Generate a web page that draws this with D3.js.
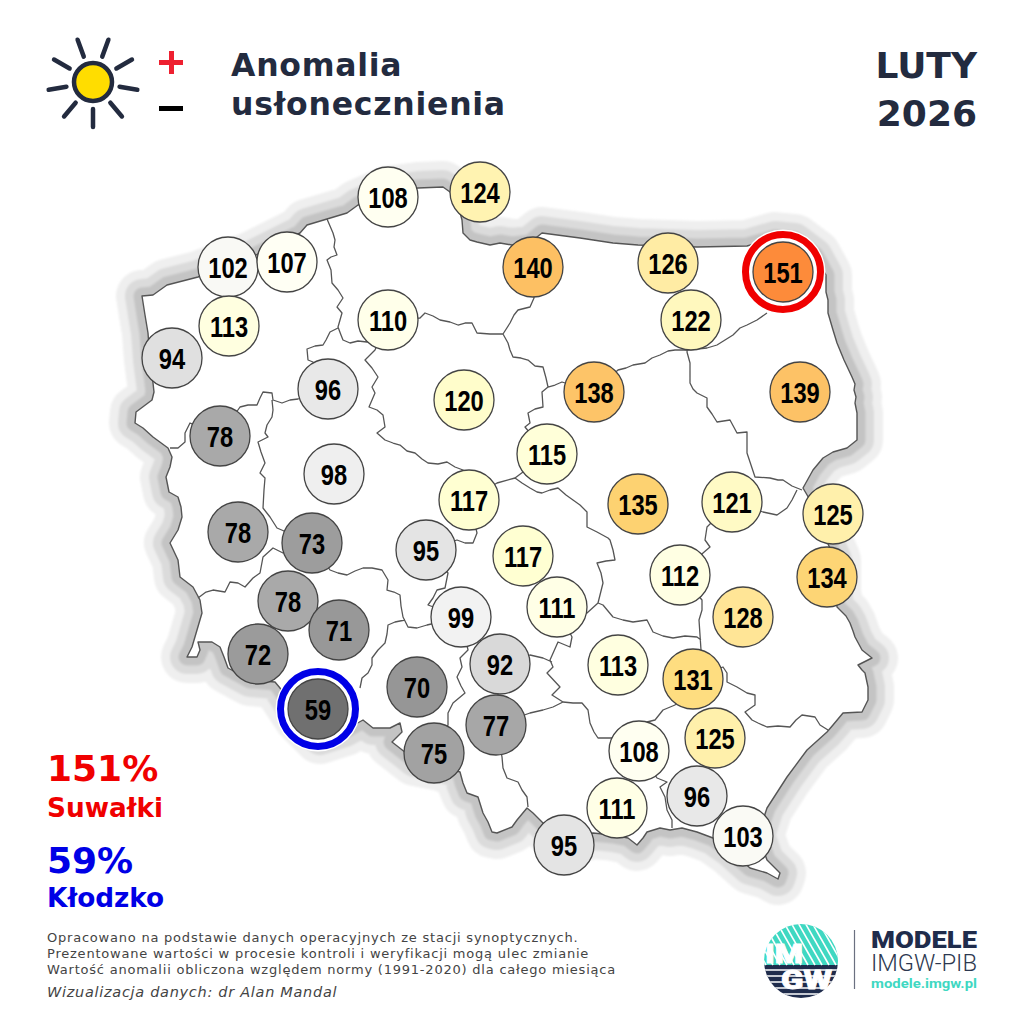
<!DOCTYPE html>
<html lang="pl">
<head>
<meta charset="utf-8">
<title>Anomalia usłonecznienia</title>
<script src="https://cdn.jsdelivr.net/npm/d3@7"></script>
<style>
  html, body { margin: 0; padding: 0; background: #fff; }
  svg { display: block; }
  .dv { font-family: 'DejaVu Sans', sans-serif; }
  .num { font-family: 'Liberation Sans', sans-serif; }
  .logo { font-family: 'Roboto', sans-serif; }
</style>
</head>
<body>
<svg id="chart" width="1024" height="1024"></svg>
<script>
// readings: station map position and percent of normal
const stationX = [388, 480, 533, 668, 783, 228, 287, 229, 172, 388, 691, 328, 464, 594, 800, 220, 334, 547, 469, 638, 732, 833, 238, 312, 426, 523, 680, 827, 288, 339, 461, 557, 743, 258, 500, 618, 693, 417, 318, 496, 715, 639, 434, 697, 617, 743, 564];
const stationY = [197, 192, 267, 263, 272, 267, 262, 326, 358, 320, 320, 389, 400, 392, 392, 436, 474, 454, 500, 504, 502, 514, 532, 543, 550, 556, 575, 577, 601, 630, 617, 607, 617, 654, 664, 665, 679, 687, 709, 725, 738, 751, 753, 796, 808, 836, 845];
const values = [108, 124, 140, 126, 151, 102, 107, 113, 94, 110, 122, 96, 120, 138, 139, 78, 98, 115, 117, 135, 121, 125, 78, 73, 95, 117, 112, 134, 78, 71, 99, 111, 128, 72, 92, 113, 131, 70, 59, 77, 125, 108, 75, 96, 111, 103, 95];

const colorStops = [59, 70, 78, 92, 100, 107, 117, 120, 125, 128, 131, 135, 138, 140, 151];
const colorRange = ['#707070', '#969696', '#a9a9a9', '#d9d9d9', '#f6f6f6', '#fffff4', '#ffffd2', '#fffdcb', '#fff0ab', '#ffe596', '#fedd80', '#fdd271', '#fdc468', '#fdc063', '#fd8b3a'];

// country outline, clockwise from the north-west corner
const border = [[142,296],[153,295],[167,285],[198,277],[250,258],[300,233],[307,225],[327,219],[347,213],[358,205],[388,192],[418,188],[443,187],[450,192],[458,205],[462,220],[463,233],[470,240],[477,242],[490,245],[500,243],[512,245],[530,243],[537,237],[542,233],[580,238],[613,243],[638,245],[697,247],[747,246],[775,238],[795,240],[815,255],[826,275],[826,292],[828,300],[828,313],[833,330],[837,343],[844,360],[852,377],[855,384],[854,390],[856,397],[855,403],[857,413],[857,440],[847,448],[833,452],[823,458],[813,470],[803,488],[810,500],[822,530],[835,560],[835,590],[837,607],[846,616],[850,623],[853,631],[855,637],[862,650],[872,658],[858,665],[862,670],[865,673],[868,687],[868,700],[862,712],[843,713],[833,725],[827,732],[807,750],[787,777],[767,808],[758,835],[767,860],[780,873],[778,879],[767,873],[750,868],[730,850],[713,838],[697,832],[682,828],[670,830],[660,828],[647,832],[643,838],[637,845],[628,838],[613,835],[593,833],[565,840],[545,825],[533,813],[527,808],[517,820],[512,827],[497,833],[492,832],[488,822],[483,813],[478,797],[467,793],[463,783],[460,772],[440,765],[415,760],[392,742],[402,732],[400,723],[390,728],[373,728],[363,720],[345,730],[320,738],[300,718],[280,688],[275,682],[250,680],[228,668],[224,657],[220,647],[212,642],[198,642],[200,650],[197,657],[187,657],[192,647],[197,630],[202,613],[200,600],[193,587],[180,577],[178,560],[170,543],[178,530],[182,517],[181,507],[178,497],[169,492],[166,477],[170,467],[172,457],[168,448],[153,437],[143,428],[135,423],[136,412],[152,400],[154,392],[153,383],[150,360],[148,333],[145,315],[142,296]];

// voivodeship boundaries, same map units
const boundaries = [
  [[327,219],[330,226],[333,233],[335,240],[334,247],[337,255],[331,257],[327,260],[331,270],[332,283],[338,290],[343,298],[337,307],[342,313],[338,327],[341,335],[343,340],[350,343],[358,341],[367,342],[388,320]],
  [[338,328],[330,332],[326,340],[323,345],[315,346],[307,349],[308,360],[313,362],[328,389],[298,399],[290,400],[282,403],[273,400],[272,393],[263,392],[260,398],[257,405],[248,405],[240,407],[220,436],[190,423],[185,433],[185,442],[178,448],[170,448]],
  [[272,400],[273,410],[272,417],[267,425],[265,433],[268,437],[258,442],[261,452],[265,463],[260,473],[265,478],[264,490],[263,508],[270,517],[277,528],[312,543]],
  [[198,598],[206,592],[213,590],[225,592],[230,582],[238,583],[245,587],[253,578],[260,573],[263,557],[273,548],[283,553],[312,543]],
  [[312,543],[330,570],[338,573],[347,575],[355,571],[363,568],[372,568],[382,570],[388,580],[387,590],[394,592],[400,595],[401,606],[403,617],[408,627],[417,628],[427,625],[461,617]],
  [[405,620],[395,622],[388,625],[387,634],[385,643],[378,650],[372,658],[372,665],[368,673],[362,678],[360,688]],
  [[461,617],[428,605],[433,598],[437,590],[445,588],[448,573],[426,550],[457,540],[465,543],[473,543],[477,533],[469,500]],
  [[388,320],[375,350],[365,360],[372,368],[378,377],[372,387],[375,393],[369,407],[377,410],[383,415],[385,427],[377,433],[385,440],[393,443],[400,445],[407,451],[415,453],[422,459],[428,463],[438,464],[447,462],[455,467],[463,470],[469,500]],
  [[388,320],[420,318],[425,313],[433,316],[440,320],[450,322],[458,325],[465,323],[472,323],[477,333],[490,334],[503,334],[510,323],[514,315],[518,310],[530,307],[534,298],[533,267]],
  [[503,334],[508,343],[510,350],[513,357],[521,358],[528,360],[535,366],[543,367],[546,378],[548,387],[542,392],[543,407],[535,409],[528,413],[530,423],[525,427],[547,454]],
  [[548,387],[555,385],[562,382],[594,392],[618,370],[626,368],[633,365],[645,363],[652,358],[660,355],[668,351],[675,350],[687,350],[697,349],[707,348],[717,345],[725,340],[733,335],[740,328],[747,325],[757,320],[767,313]],
  [[691,320],[687,352],[690,363],[690,383],[693,389],[697,393],[707,398],[707,407],[712,414],[717,422],[730,420],[737,433],[747,432],[747,453],[751,465],[755,477],[770,478],[778,480],[783,480],[792,486],[802,490]],
  [[797,490],[792,500],[787,508],[777,515],[763,512],[732,502],[707,527],[705,540],[710,547],[703,553],[681,575],[702,600],[702,610],[699,620],[700,635],[701,650],[693,679],[723,667],[727,673],[727,682],[737,687],[747,693],[755,695],[755,705],[745,712],[752,720],[758,723],[767,727],[778,726],[790,727],[796,720],[802,715],[815,717],[820,725],[828,730]],
  [[469,500],[497,483],[515,478],[547,454]],
  [[515,478],[522,483],[530,488],[537,492],[542,493],[550,490],[558,488],[566,495],[573,500],[580,505],[587,512],[587,527],[597,532],[608,538],[610,540],[613,550],[615,560],[606,561],[597,563],[601,573],[603,583],[598,603],[603,605],[613,617],[623,620],[633,622],[647,620],[653,632],[663,636],[673,638],[685,636],[697,637],[701,640]],
  [[598,603],[587,613],[557,607]],
  [[557,607],[572,637],[570,647],[558,642],[550,660],[553,667],[547,673],[560,687],[552,695],[563,702],[573,703],[582,703],[588,710],[590,723],[594,732],[598,738],[612,738],[639,751]],
  [[563,702],[553,707],[543,710],[530,713],[496,725],[502,757],[503,768],[507,778],[518,782],[522,790],[527,797],[528,807]],
  [[500,664],[530,655],[543,658],[552,662]],
  [[693,679],[675,705],[663,710],[655,720],[647,722],[639,751]],
  [[639,751],[657,778],[667,782],[660,787],[665,797],[667,810],[672,820],[672,828]],
  [[461,617],[468,650],[460,658],[462,667],[457,677],[461,686],[465,693],[453,703],[448,713],[448,725],[434,753]],
  [[461,617],[500,664],[496,725]]
];

const sunRayAngles = [-140, -100, -60, -20, 20, 60, 100, 140, 180];
const noteLines = [
  'Opracowano na podstawie danych operacyjnych ze stacji synoptycznych.',
  'Prezentowane wartości w procesie kontroli i weryfikacji mogą ulec zmianie',
  'Wartość anomalii obliczona względem normy (1991-2020) dla całego miesiąca'
];

const ink = '#232b3f';
const teal = '#3fd8c2';
const navy = '#1f2c4c';

const svg = d3.select('#chart');
const color = d3.scaleLinear().domain(colorStops).range(colorRange);
const projection = d3.geoIdentity();
const path = d3.geoPath().projection(projection);

// halo round the country, widest band first
const blur = svg.append('defs').append('filter').attr('id', 'soft');
blur.append('feGaussianBlur').attr('stdDeviation', 0.8);

const countryShape = { type: 'Polygon', coordinates: [border] };
const halo = svg.append('g').attr('filter', 'url(#soft)');
[[52, '#efefef'], [34, '#dbdbdb'], [17, '#c4c4c4']].forEach(([w, c]) => {
  halo.append('path')
    .attr('d', path(countryShape))
    .attr('fill', c)
    .attr('stroke', c)
    .attr('stroke-width', w)
    .attr('stroke-linejoin', 'round');
});
svg.append('path')
  .attr('d', path(countryShape))
  .attr('fill', '#fff')
  .attr('stroke', '#555')
  .attr('stroke-width', 1.4)
  .attr('stroke-linejoin', 'round');

svg.append('path')
  .attr('d', path({ type: 'MultiLineString', coordinates: boundaries }))
  .attr('fill', 'none')
  .attr('stroke', '#555')
  .attr('stroke-width', 1.3)
  .attr('stroke-linejoin', 'round');

// stations
const stations = values.map((v, i) => ({ v, p: projection([stationX[i], stationY[i]]) }));
const maxV = d3.max(values);
const minV = d3.min(values);

const marks = svg.append('g').selectAll('g')
  .data(stations)
  .enter().append('g')
  .attr('transform', d => `translate(${d.p[0]},${d.p[1]})`);

marks.filter(d => d.v === maxV || d.v === minV)
  .append('circle')
  .attr('r', 42.5)
  .attr('fill', '#fff');
marks.filter(d => d.v === maxV || d.v === minV)
  .append('circle')
  .attr('r', 37.5)
  .attr('fill', '#fff')
  .attr('stroke', d => d.v === maxV ? '#f00000' : '#0000e6')
  .attr('stroke-width', 7);
marks.append('circle')
  .attr('r', 30)
  .attr('fill', d => color(d.v))
  .attr('stroke', '#444')
  .attr('stroke-width', 1.3);
marks.append('text')
  .attr('class', 'num')
  .attr('text-anchor', 'middle')
  .attr('transform', 'translate(0,11) scale(0.79,1)')
  .attr('font-size', 30)
  .attr('font-weight', 'bold')
  .attr('fill', '#000')
  .text(d => d.v);

// header
const sun = svg.append('g').attr('transform', 'translate(93,82)');
sun.selectAll('line')
  .data(sunRayAngles)
  .enter().append('line')
  .attr('x1', a => 27 * Math.sin(a * Math.PI / 180))
  .attr('y1', a => -27 * Math.cos(a * Math.PI / 180))
  .attr('x2', a => 45 * Math.sin(a * Math.PI / 180))
  .attr('y2', a => -45 * Math.cos(a * Math.PI / 180))
  .attr('stroke', ink)
  .attr('stroke-width', 4.5)
  .attr('stroke-linecap', 'round');
sun.append('circle')
  .attr('r', 19)
  .attr('fill', '#ffdd00')
  .attr('stroke', ink)
  .attr('stroke-width', 4.5);

svg.append('rect').attr('x', 159).attr('y', 60).attr('width', 24).attr('height', 5).attr('fill', '#ee2030');
svg.append('rect').attr('x', 169).attr('y', 51).attr('width', 5).attr('height', 23).attr('fill', '#ee2030');
svg.append('rect').attr('x', 159).attr('y', 106).attr('width', 24).attr('height', 5).attr('fill', '#000');

const addText = (x, y, txt, size, fill, weight = 'bold', anchor = 'start', style = 'normal') =>
  svg.append('text')
    .attr('class', 'dv')
    .attr('x', x).attr('y', y)
    .attr('font-size', size)
    .attr('font-weight', weight)
    .attr('font-style', style)
    .attr('text-anchor', anchor)
    .attr('fill', fill)
    .text(txt);

addText(231, 76, 'Anomalia', 31.5, ink).attr('letter-spacing', 0.75);
addText(231, 115, 'usłonecznienia', 31.5, ink).attr('letter-spacing', 0.75);
addText(977, 78, 'LUTY', 36, ink, 'bold', 'end');
addText(977, 126, '2026', 36, ink, 'bold', 'end');

// extremes
addText(47, 781, '151%', 36, '#f00000');
addText(47, 817, 'Suwałki', 26.3, '#f00000');
addText(47, 873, '59%', 36, '#0000e6');
addText(47, 907, 'Kłodzko', 26.3, '#0000e6');

// notes
noteLines.forEach((t, i) => addText(47, 942 + i * 16, t, 13, '#444', 'normal').attr('letter-spacing', 0.78));
addText(47, 997, 'Wizualizacja danych: dr Alan Mandal', 14.5, '#444', 'normal', 'start', 'italic').attr('letter-spacing', 0.7);

// logo
const logo = svg.append('g').attr('transform', 'translate(801,961)');
logo.append('clipPath').attr('id', 'logoClip').append('circle').attr('r', 37);
const logoInner = logo.append('g').attr('clip-path', 'url(#logoClip)');
logoInner.append('rect').attr('x', -37).attr('y', -37).attr('width', 74).attr('height', 41).attr('fill', teal);
logoInner.append('rect').attr('x', -37).attr('y', 4).attr('width', 74).attr('height', 33).attr('fill', navy);
d3.range(-60, 70, 7).forEach(o => {
  logoInner.append('line')
    .attr('x1', o).attr('y1', -40).attr('x2', o + 25).attr('y2', 4)
    .attr('stroke', '#fff').attr('stroke-width', 1.6);
});
d3.range(9, 37, 6).forEach(o => {
  logoInner.append('line')
    .attr('x1', -37).attr('y1', o).attr('x2', 37).attr('y2', o)
    .attr('stroke', '#fff').attr('stroke-width', 1.6);
});
logo.append('text').attr('class', 'logo').attr('x', -36).attr('y', 2)
  .attr('font-size', 26).attr('font-weight', 900).attr('fill', '#fff')
  .attr('stroke', '#fff').attr('stroke-width', 0.8)
  .attr('textLength', 38).attr('lengthAdjust', 'spacingAndGlyphs').text('IM');
logo.append('text').attr('class', 'logo').attr('x', -20).attr('y', 28)
  .attr('font-size', 26).attr('font-weight', 900).attr('fill', '#fff')
  .attr('stroke', '#fff').attr('stroke-width', 0.8)
  .attr('textLength', 51).attr('lengthAdjust', 'spacingAndGlyphs').text('GW');

svg.append('line').attr('x1', 854.5).attr('y1', 930).attr('x2', 854.5).attr('y2', 989)
  .attr('stroke', '#6b7080').attr('stroke-width', 1.2);
svg.append('text').attr('class', 'logo').attr('x', 871).attr('y', 948)
  .attr('font-size', 24.5).attr('font-weight', 900).attr('fill', navy)
  .attr('textLength', 106).attr('lengthAdjust', 'spacingAndGlyphs').text('MODELE');
svg.append('text').attr('class', 'logo').attr('x', 871).attr('y', 971)
  .attr('font-size', 23).attr('font-weight', 300).attr('fill', '#2c3850')
  .attr('textLength', 106).attr('lengthAdjust', 'spacingAndGlyphs').text('IMGW-PIB');
svg.append('text').attr('class', 'logo').attr('x', 871).attr('y', 988)
  .attr('font-size', 13).attr('font-weight', 700).attr('fill', teal)
  .attr('textLength', 106).attr('lengthAdjust', 'spacingAndGlyphs').text('modele.imgw.pl');
</script>
</body>
</html>
